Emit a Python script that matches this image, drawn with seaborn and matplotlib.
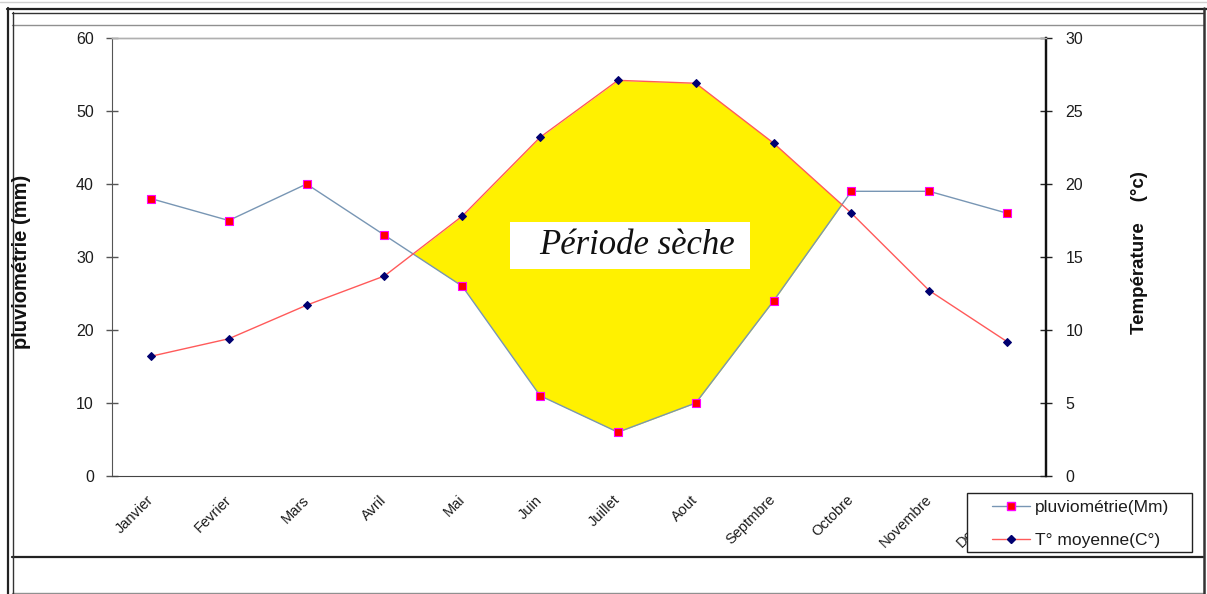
import numpy as np
import pandas as pd
import matplotlib
matplotlib.use("Agg")
import matplotlib.pyplot as plt
from matplotlib.lines import Line2D
from matplotlib.patches import Rectangle
from matplotlib.transforms import ScaledTranslation
import seaborn as sns

# Monthly climate data
mois = ["Janvier", "Fevrier", "Mars", "Avril", "Mai", "Juin", "Juillet",
        "Aout", "Septmbre", "Octobre", "Novembre", "Decembre"]
pluviometrie = [38, 35, 40, 33, 26, 11, 6, 10, 24, 39, 39, 36]
temperature = [8.2, 9.4, 11.7, 13.7, 17.8, 23.2, 27.1, 26.9, 22.8, 18.0, 12.7, 9.2]
yticks_pluie = [0, 10, 20, 30, 40, 50, 60]
yticks_temp = [0, 5, 10, 15, 20, 25, 30]

df = pd.DataFrame({"mois": mois, "idx": np.arange(len(mois)),
                   "pluie": pluviometrie, "temp": temperature})

sns.set_style("white")
plt.rcParams["font.family"] = ["Liberation Sans", "DejaVu Sans"]

W, H, DPI = 1207, 594, 100
fig = plt.figure(figsize=(W / DPI, H / DPI), dpi=DPI)
L, R, T, B = 112, 1046, 38, 476
ax1 = fig.add_axes([L / W, 1 - B / H, (R - L) / W, (B - T) / H])
ax2 = ax1.twinx()

PL_COLOR = "#7896b4"
TEMP_COLOR = "#ff5a5a"
TXT = "#1c1c1c"

# Dry period: temperature (on the doubled scale) above rainfall
ratio = yticks_pluie[-1] / yticks_temp[-1]
t_scaled = df["temp"].to_numpy() * ratio
p = df["pluie"].to_numpy()
ax1.fill_between(df["idx"], p, t_scaled, where=t_scaled > p, interpolate=True,
                 color="#fff100", linewidth=0, zorder=1)

sns.lineplot(data=df, x="idx", y="pluie", ax=ax1, color=PL_COLOR, linewidth=1.0,
             marker="s", markersize=6, markerfacecolor="#ff0000",
             markeredgecolor="#ff00ff", markeredgewidth=0.8, legend=False, zorder=3)
sns.lineplot(data=df, x="idx", y="temp", ax=ax2, color=TEMP_COLOR, linewidth=1.0,
             marker="D", markersize=4.5, markerfacecolor="#000070",
             markeredgecolor="#000070", legend=False, zorder=3)

ax1.set_xlim(-0.5, len(mois) - 0.5)
ax1.set_ylim(yticks_pluie[0], yticks_pluie[-1])
ax2.set_ylim(yticks_temp[0], yticks_temp[-1])

# Category boundaries carry the tick marks, category centres carry the names
ax1.set_xticks(np.arange(-0.5, len(mois), 1.0))
ax1.set_xticklabels([])
ax1.set_xticks(np.arange(len(mois)), minor=True)
ax1.set_xticklabels(mois, minor=True, rotation=45, ha="right", va="top",
                    fontsize=10.5, color=TXT)
ax1.tick_params(axis="x", which="minor", length=0, pad=12)
ax1.tick_params(axis="x", which="major", direction="inout", length=7,
                width=1, color="#333333")
offset = ScaledTranslation(5 / DPI, 0, fig.dpi_scale_trans)
for lab in ax1.xaxis.get_minorticklabels():
    lab.set_transform(lab.get_transform() + offset)

ax1.set_yticks(yticks_pluie)
ax1.set_yticklabels([str(v) for v in yticks_pluie], fontsize=11.5, color=TXT)
ax1.tick_params(axis="y", direction="inout", length=8, width=1, color="#555555", pad=9)
ax2.set_yticks(yticks_temp)
ax2.set_yticklabels([str(v) for v in yticks_temp], fontsize=11.5, color=TXT)
ax2.tick_params(axis="y", direction="inout", length=8, width=1, color="#222222", pad=10)

ax1.set_xlabel("")
ax1.set_ylabel("")
ax2.set_ylabel("")

for ax in (ax1, ax2):
    ax.grid(False)
    ax.set_facecolor("none")
    ax.spines["left"].set_color("#555555")
    ax.spines["bottom"].set_color("#444444")
    ax.spines["right"].set_color("#111111")
    ax.spines["right"].set_linewidth(1.6)
    ax.spines["top"].set_color("#b0b0b0")
    ax.spines["top"].set_linewidth(1.0)
ax2.spines["left"].set_visible(False)
ax2.spines["bottom"].set_visible(False)

# Dry-period caption
ax1.add_patch(Rectangle((0.4261, 0.4726), 0.257, 0.1073, transform=ax1.transAxes,
                        facecolor="white", edgecolor="none", zorder=4))
ax1.text(0.457, 0.527, "Période sèche", transform=ax1.transAxes, ha="left", va="center",
         fontsize=25, style="italic", family="Liberation Serif", color="#111111", zorder=5)

# Axis titles
fig.text(22 / W, 1 - 262 / H, "pluviométrie (mm)", rotation=90, ha="center", va="center",
         fontsize=14.5, fontweight="bold", color="#111111")
fig.text(1139 / W, 1 - 253 / H, "Température    (°c)", rotation=90, ha="center",
         va="center", fontsize=13.5, fontweight="bold", color="#111111")

# Legend: white box drawn over the axis labels, entries placed inside it
fig.add_artist(Rectangle((967 / W, 1 - 552 / H), (1192 - 967) / W, (552 - 493) / H,
                         transform=fig.transFigure, facecolor="white",
                         edgecolor="#222222", linewidth=1.0, zorder=4))
handles = [
    Line2D([], [], color=PL_COLOR, lw=1.0, marker="s", markersize=6,
           markerfacecolor="#ff0000", markeredgecolor="#ff00ff"),
    Line2D([], [], color=TEMP_COLOR, lw=1.0, marker="D", markersize=4.5,
           markerfacecolor="#000070", markeredgecolor="#000070"),
]
leg = fig.legend(handles, ["pluviométrie(Mm)", "T° moyenne(C°)"], loc="upper left",
                 bbox_to_anchor=(992 / W, 1 - 500 / H), borderaxespad=0,
                 frameon=False, fontsize=12.5, handlelength=2.2,
                 handletextpad=0.25, borderpad=0, labelspacing=1.0)
leg.set_zorder(5)
for t in leg.get_texts():
    t.set_color(TXT)


# Page frame around the chart
def hline(y, x0, x1, color, lw):
    fig.add_artist(Line2D([x0 / W, x1 / W], [1 - y / H, 1 - y / H],
                          transform=fig.transFigure, color=color, lw=lw))


def vline(x, y0, y1, color, lw):
    fig.add_artist(Line2D([x / W, x / W], [1 - y0 / H, 1 - y1 / H],
                          transform=fig.transFigure, color=color, lw=lw))


hline(2, 0, W, "#d0d0d0", 1.0)
hline(8.5, 7, W, "#222222", 1.6)
hline(12.5, 12, 1203, "#333333", 1.0)
hline(24.5, 12, 1203, "#909090", 1.0)
hline(557, 12, 1203, "#222222", 1.6)
hline(593, 12, 1203, "#909090", 1.0)
vline(7.5, 8, H, "#222222", 1.6)
vline(12.5, 12, H, "#333333", 1.0)
vline(1204, 8, H, "#333333", 1.8)

fig.savefig("out.png", dpi=DPI, facecolor="white")
